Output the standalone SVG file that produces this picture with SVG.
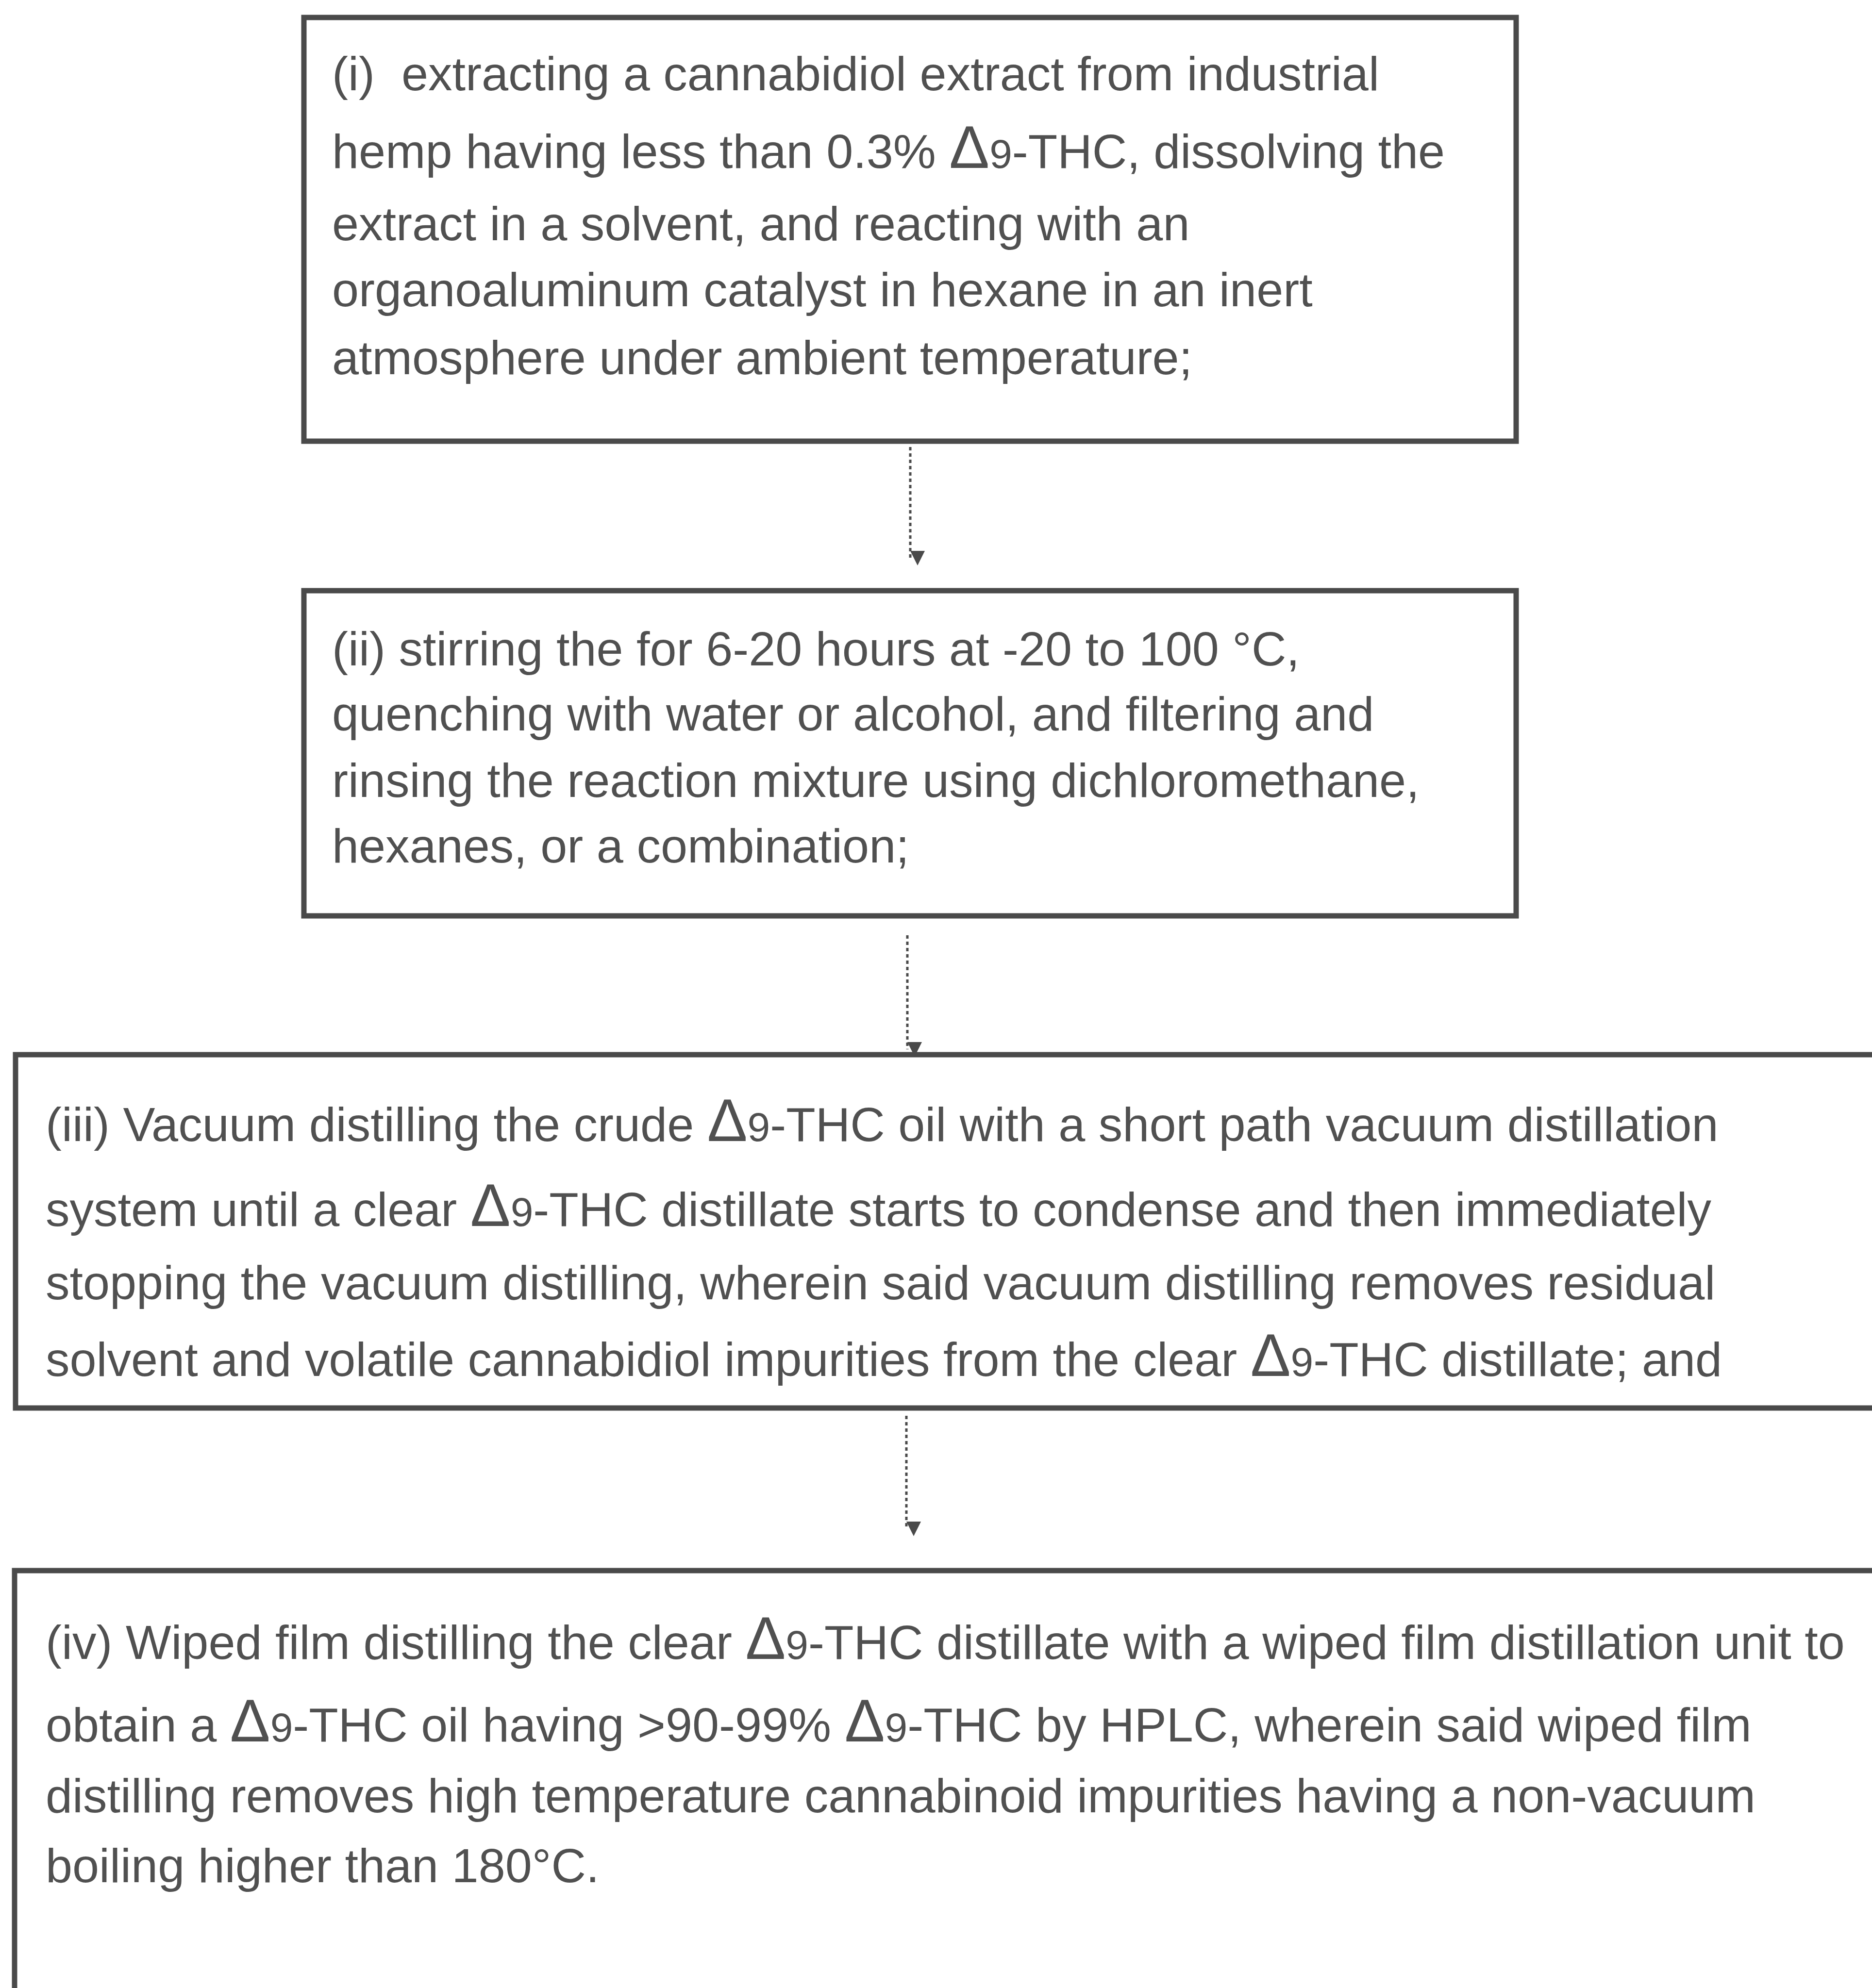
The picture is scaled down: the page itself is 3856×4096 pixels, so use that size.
<svg xmlns="http://www.w3.org/2000/svg" width="3856" height="4096" viewBox="0 0 3856 4096">
<defs>
<style>
.box{fill:#fff;stroke:#4a4a4a;stroke-width:11}
.t{font-family:"Liberation Sans",Arial,sans-serif;font-size:99px;fill:#505050;white-space:pre}
.d{font-size:124px}
.n{font-size:84px}
.conn{stroke:#4a4a4a;stroke-width:5;stroke-dasharray:7 6;fill:none}
</style>
<marker id="ah" viewBox="0 0 10 10" refX="5" refY="10" markerWidth="30" markerHeight="46" markerUnits="userSpaceOnUse" orient="auto-start-reverse">
<path d="M0,0 L10,0 L5,10 Z" fill="#4a4a4a" transform="rotate(-90 5 5)"/>
</marker>
</defs>
<rect width="3856" height="4096" fill="#fff"/>
<g id="node1">
<rect class="box" x="626" y="36" width="2497" height="873"/>
<text class="t" x="684" y="186">(i)  extracting a cannabidiol extract from industrial</text>
<text class="t" x="684" y="346">hemp having less than 0.3% <tspan class="d">Δ</tspan><tspan class="n">9</tspan>-THC, dissolving the</text>
<text class="t" x="684" y="495">extract in a solvent, and reacting with an</text>
<text class="t" x="684" y="631">organoaluminum catalyst in hexane in an inert</text>
<text class="t" x="684" y="771">atmosphere under ambient temperature;</text>
</g>
<g id="node2">
<rect class="box" x="626" y="1217" width="2497" height="670"/>
<text class="t" x="684" y="1371">(ii) stirring the for 6-20 hours at -20 to 100 °C,</text>
<text class="t" x="684" y="1505">quenching with water or alcohol, and filtering and</text>
<text class="t" x="684" y="1642">rinsing the reaction mixture using dichloromethane,</text>
<text class="t" x="684" y="1777">hexanes, or a combination;</text>
</g>
<g id="node3">
<rect class="box" x="32" y="2173" width="3900" height="728"/>
<text class="t" x="94" y="2351">(iii) Vacuum distilling the crude <tspan class="d">Δ</tspan><tspan class="n">9</tspan>-THC oil with a short path vacuum distillation</text>
<text class="t" x="94" y="2526">system until a clear <tspan class="d">Δ</tspan><tspan class="n">9</tspan>-THC distillate starts to condense and then immediately</text>
<text class="t" x="94" y="2677">stopping the vacuum distilling, wherein said vacuum distilling removes residual</text>
<text class="t" x="94" y="2835">solvent and volatile cannabidiol impurities from the clear <tspan class="d">Δ</tspan><tspan class="n">9</tspan>-THC distillate; and</text>
</g>
<g id="node4">
<rect class="box" x="30" y="3236" width="3900" height="960"/>
<text class="t" x="94" y="3418">(iv) Wiped film distilling the clear <tspan class="d">Δ</tspan><tspan class="n">9</tspan>-THC distillate with a wiped film distillation unit to</text>
<text class="t" x="94" y="3588">obtain a <tspan class="d">Δ</tspan><tspan class="n">9</tspan>-THC oil having &gt;90-99% <tspan class="d">Δ</tspan><tspan class="n">9</tspan>-THC by HPLC, wherein said wiped film</text>
<text class="t" x="94" y="3734">distilling removes high temperature cannabinoid impurities having a non-vacuum</text>
<text class="t" x="94" y="3878">boiling higher than 180°C.</text>
</g>
<g id="connectors">
<line class="conn" x1="1875" y1="921" x2="1875" y2="1150" marker-end="url(#ah)"/>
<line class="conn" x1="1869" y1="1927" x2="1869" y2="2162" marker-end="url(#ah)"/>
<line class="conn" x1="1867" y1="2917" x2="1867" y2="3150" marker-end="url(#ah)"/>
</g>
</svg>
